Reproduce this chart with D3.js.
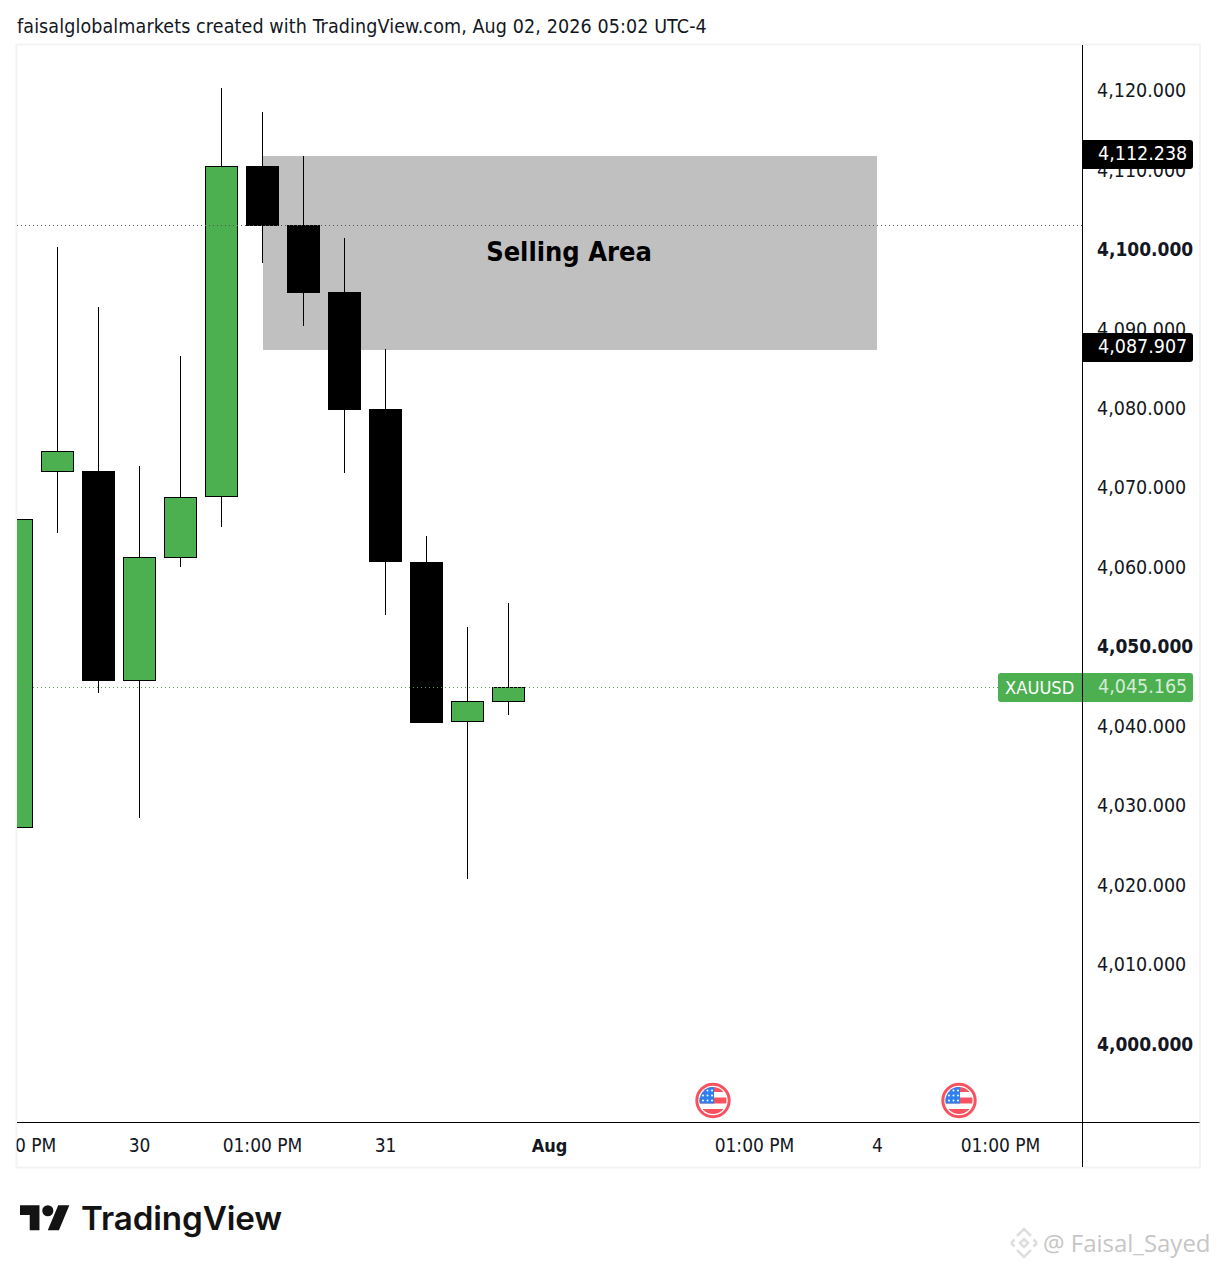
<!DOCTYPE html>
<html>
<head>
<meta charset="utf-8">
<script src="https://cdn.jsdelivr.net/npm/d3@7/dist/d3.min.js"></script>
<style>
    html, body { margin: 0; padding: 0; background: #fff; }
    svg { display: block; }
    text { font-family: "DejaVu Sans", sans-serif; font-stretch: condensed; fill: #131722; }
</style>
</head>
<body>
<div id="chart"></div>
<script>
// candles, left to right
var opens  = [4027.30, 4072.08, 4072.20, 4045.79, 4061.26, 4068.93, 4110.57, 4103.14, 4094.72, 4080.00, 4060.75, 4040.63, 4043.14];
var highs  = [4068.00, 4100.38, 4092.83, 4072.83, 4086.67, 4120.38, 4117.36, 4111.82, 4101.51, 4087.55, 4064.03, 4052.58, 4055.60];
var lows   = [4026.00, 4064.40, 4044.28, 4028.55, 4060.13, 4065.16, 4098.36, 4090.44, 4071.95, 4054.09, 4040.50, 4020.88, 4041.51];
var closes = [4066.16, 4074.72, 4045.79, 4061.38, 4068.93, 4110.57, 4103.02, 4094.59, 4079.87, 4060.75, 4040.50, 4043.27, 4045.03];

var priceTicks = [4000, 4010, 4020, 4030, 4040, 4050, 4060, 4070, 4080, 4090, 4100, 4110, 4120];
var timeTicks  = [0, 3, 6, 9, 13, 18, 21, 24];
var timeLabels = ['01:00 PM', '30', '01:00 PM', '31', 'Aug', '01:00 PM', '4', '01:00 PM'];
var boldTimes  = ['Aug'];
var eventSlots = [17, 23];

var zoneStart = 6, zoneEnd = 21, zoneTop = 4111.8, zoneBottom = 4087.4;
var zoneLabel = 'Selling Area';
var zoneLines = [4112.238, 4087.907];
var lastPrice = 4045.165;
var refLine = 4103.1;
var symbol = 'XAUUSD';
var title = 'faisalglobalmarkets created with TradingView.com, Aug 02, 2026 05:02 UTC-4';

var width = 1217, height = 1267;
var left = 17, right = 1199, top_ = 45, bottom = 1167, axisX = 1082, axisY = 1122;
var green = '#4caf50';

var x = d3.scaleLinear().domain([0, 1]).range([16.5, 57.5]);
var y = d3.scaleLinear().domain([4120, 4000]).range([91, 1044.6]);
var fmt = d3.format(',.3f');

var svg = d3.select('#chart').append('svg')
    .attr('width', width)
    .attr('height', height);

var defs = svg.append('defs');
defs.append('clipPath').attr('id', 'pane').append('rect')
    .attr('x', left).attr('y', top_).attr('width', axisX - left).attr('height', axisY - top_);
defs.append('clipPath').attr('id', 'timeclip').append('rect')
    .attr('x', left).attr('y', 0).attr('width', axisX - left).attr('height', bottom - axisY);
defs.append('clipPath').attr('id', 'flagclip').append('circle').attr('r', 13.5);

svg.append('text')
    .attr('x', 17).attr('y', 33)
    .style('font-size', '19.5px')
    .style('letter-spacing', '0.107px')
    .text(title);

// outer frame
svg.append('rect')
    .attr('x', 16.5).attr('y', 44.5)
    .attr('width', 1183.5).attr('height', 1123)
    .attr('fill', 'none').attr('stroke', '#f3f3f3').attr('stroke-width', 2);

var pane = svg.append('g').attr('clip-path', 'url(#pane)');

// selling zone
pane.append('rect')
    .attr('x', Math.ceil(x(zoneStart)))
    .attr('y', Math.round(y(zoneTop)))
    .attr('width', Math.floor(x(zoneEnd)) - Math.ceil(x(zoneStart)))
    .attr('height', Math.round(y(zoneBottom)) - Math.round(y(zoneTop)))
    .attr('fill', '#c0c0c0');

// candles
var candles = pane.selectAll('g.candle')
    .data(opens)
    .enter().append('g')
    .attr('class', 'candle')
    .attr('shape-rendering', 'crispEdges');

candles.append('line')
    .attr('x1', function (d, i) { return x(i); })
    .attr('x2', function (d, i) { return x(i); })
    .attr('y1', function (d, i) { return y(highs[i]); })
    .attr('y2', function (d, i) { return y(lows[i]); })
    .attr('stroke', '#000');

candles.append('rect')
    .attr('x', function (d, i) { return x(i) - 16; })
    .attr('width', 32)
    .attr('y', function (d, i) { return Math.round(y(Math.max(opens[i], closes[i]))) + 0.5; })
    .attr('height', function (d, i) {
        return Math.round(y(Math.min(opens[i], closes[i]))) - Math.round(y(Math.max(opens[i], closes[i]))) - 1;
    })
    .attr('fill', function (d, i) { return closes[i] >= opens[i] ? green : '#000'; })
    .attr('stroke', '#000');

// dotted price lines
pane.append('line')
    .attr('x1', left).attr('x2', axisX)
    .attr('y1', Math.round(y(refLine)) + 0.5).attr('y2', Math.round(y(refLine)) + 0.5)
    .attr('stroke', '#555').attr('stroke-dasharray', '1 3');
pane.append('line')
    .attr('x1', left).attr('x2', 998)
    .attr('y1', Math.round(y(lastPrice)) + 1.5).attr('y2', Math.round(y(lastPrice)) + 1.5)
    .attr('stroke', '#5f9a62').attr('stroke-dasharray', '1 3');

pane.append('text')
    .attr('x', (x(zoneStart) + x(zoneEnd)) / 2 - 1)
    .attr('y', (y(zoneTop) + y(zoneBottom)) / 2 + 8)
    .attr('text-anchor', 'middle')
    .style('font-size', '27px')
    .style('font-weight', 'bold')
    .style('fill', '#000')
    .text(zoneLabel);

// economic event flags
var flags = svg.selectAll('g.flag')
    .data(eventSlots)
    .enter().append('g')
    .attr('class', 'flag')
    .attr('transform', function (d) { return 'translate(' + (x(d) - 0.5) + ',1100.5)'; });

flags.append('circle').attr('r', 16.2)
    .attr('fill', '#fff').attr('stroke', '#f7525f').attr('stroke-width', 3);

var inner = flags.append('g').attr('clip-path', 'url(#flagclip)');
[[-14, -8.5], [-3, 3], [8.5, 14]].forEach(function (s) {
    inner.append('rect')
        .attr('x', -14).attr('y', s[0]).attr('width', 28).attr('height', s[1] - s[0])
        .attr('fill', '#f7525f');
});
inner.append('rect')
    .attr('x', -14).attr('y', -14).attr('width', 15).attr('height', 17)
    .attr('fill', '#2f80ed');
[-10, -5, 0].forEach(function (sy) {
    [-10, -5.5, -1].forEach(function (sx) {
        inner.append('circle').attr('cx', sx).attr('cy', sy).attr('r', 1).attr('fill', '#fff');
    });
});

// price axis
var priceAxis = d3.axisRight(y)
    .tickValues(priceTicks)
    .tickSize(0)
    .tickPadding(15)
    .tickFormat(fmt);

var gy = svg.append('g')
    .attr('transform', 'translate(' + axisX + ',0)')
    .call(priceAxis);
gy.select('.domain').remove();
gy.selectAll('text')
    .attr('dy', '0.29em')
    .style('font-weight', function (d) { return d % 50 === 0 ? 'bold' : 'normal'; })
    .style('font-size', function (d) { return d % 50 === 0 ? '19px' : '19.5px'; });

// time axis
var timeAxis = d3.axisBottom(x)
    .tickValues(timeTicks)
    .tickSize(0)
    .tickPadding(16)
    .tickFormat(function (d, i) { return timeLabels[i]; });

var gx = svg.append('g')
    .attr('transform', 'translate(-0.5,' + axisY + ')')
    .attr('clip-path', 'url(#timeclip)')
    .call(timeAxis);
gx.select('.domain').remove();
gx.selectAll('text')
    .attr('dy', '14px')
    .style('font-size', function (d, i) { return boldTimes.indexOf(timeLabels[i]) >= 0 ? '18px' : '19px'; })
    .style('font-weight', function (d, i) { return boldTimes.indexOf(timeLabels[i]) >= 0 ? 'bold' : 'normal'; });

// axis lines
svg.append('line').attr('x1', axisX + 0.5).attr('x2', axisX + 0.5).attr('y1', top_).attr('y2', bottom)
    .attr('stroke', '#000');
svg.append('line').attr('x1', left).attr('x2', right + 0.5).attr('y1', axisY + 0.5).attr('y2', axisY + 0.5)
    .attr('stroke', '#000');

// price labels for the zone edges and the last price
function priceTag(value, fill, from, textFill) {
    var cy = Math.round(y(value));
    svg.append('path')
        .attr('d', 'M' + from + ',' + (cy - 13) + 'H1190a3,3 0 0 1 3,3V' + (cy + 13) +
            'a3,3 0 0 1 -3,3H' + from + (from < axisX ? 'a3,3 0 0 1 -3,-3V' + (cy - 10) + 'a3,3 0 0 1 3,-3' : '') + 'Z')
        .attr('fill', fill);
    svg.append('text')
        .attr('x', 1098).attr('y', cy + 6.5)
        .style('font-size', '19.5px')
        .style('fill', textFill)
        .text(fmt(value));
}
zoneLines.forEach(function (v) { priceTag(v, '#000', axisX, '#fff'); });
priceTag(lastPrice, green, 1001, '#d5ecd6');
svg.append('line').attr('x1', axisX + 0.5).attr('x2', axisX + 0.5).attr('y1', y(lastPrice) - 13).attr('y2', y(lastPrice) + 16)
    .attr('stroke', '#000');
svg.append('text')
    .attr('x', 1005).attr('y', y(lastPrice) + 8)
    .style('font-size', '18.2px')
    .style('fill', '#fff')
    .text(symbol);

// TradingView logo
var logo = svg.append('g')
    .attr('transform', 'translate(20,1199.6) scale(1.39)')
    .attr('fill', '#131313');
logo.append('path').attr('d', 'M14 22H7V11H0V4h14v18zM28 22h-8l7.5-18h8L28 22z');
logo.append('circle').attr('cx', 20).attr('cy', 8).attr('r', 4);
svg.append('text')
    .attr('x', 81).attr('y', 1230)
    .style('font-family', 'Inter, sans-serif')
    .style('font-stretch', 'normal')
    .style('font-weight', 600)
    .style('font-size', '33.2px')
    .style('letter-spacing', '-0.1px')
    .style('fill', '#131313')
    .text('TradingView');

// watermark
var mark = svg.append('g')
    .attr('transform', 'translate(1024,1243)')
    .attr('fill', 'none').attr('stroke', '#dedede').attr('stroke-width', 2.5);
mark.append('path').attr('d', 'M0,-4L4,0L0,4L-4,0Z');
mark.append('path').attr('d', 'M-7,-7L0,-14L7,-7');
mark.append('path').attr('d', 'M-7,7L0,14L7,7');
mark.append('path').attr('d', 'M-13,0L-9.5,-3.5M-13,0L-9.5,3.5M13,0L9.5,-3.5M13,0L9.5,3.5');
svg.append('text')
    .attr('x', 1043).attr('y', 1252)
    .style('font-family', '"Open Sans", sans-serif')
    .style('font-stretch', 'normal')
    .style('font-size', '24px')
    .style('fill', '#c6c6c6')
    .text('@ Faisal_Sayed');
</script>
</body>
</html>
